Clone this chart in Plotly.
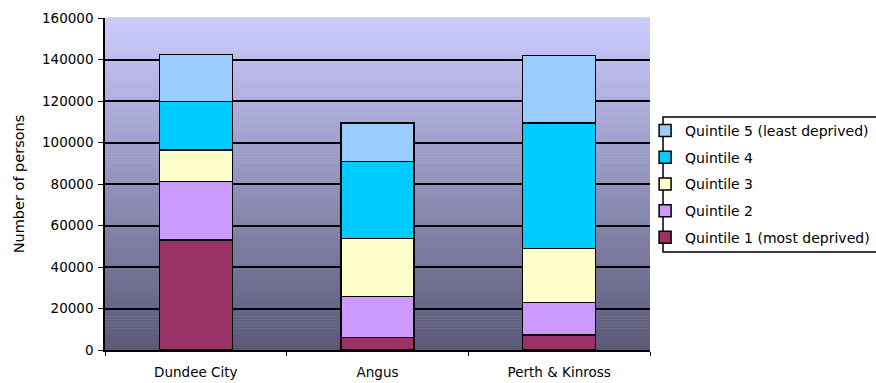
import plotly.graph_objects as go

categories = ["Dundee City", "Angus", "Perth & Kinross"]
series_names = ["Quintile 1 (most deprived)", "Quintile 2", "Quintile 3",
                "Quintile 4", "Quintile 5 (least deprived)"]
q1 = [53000, 6100, 7200]
q2 = [28200, 19600, 15600]
q3 = [15300, 28000, 26200]
q4 = [23300, 37100, 60300]
q5 = [22500, 18500, 32600]
y_ticks = [0, 20000, 40000, 60000, 80000, 100000, 120000, 140000, 160000]

series_values = [q1, q2, q3, q4, q5]
colors = ["#993366", "#cc99ff", "#ffffcc", "#00ccff", "#99ccff"]

FONT = "DejaVu Sans"

fig = go.Figure()
for i, (name, vals, col) in enumerate(zip(series_names, series_values, colors)):
    fig.add_trace(go.Bar(
        x=categories, y=vals, name=name, legendgroup=name,
        legendrank=len(series_names) - i,
        marker=dict(color=col, line=dict(color="black", width=1.5)),
    ))

# gradient background bands
top = (0xcc, 0xcc, 0xff)
bot = (0x5a, 0x58, 0x76)
N = 110
shapes = []
for k in range(N):
    t = (k + 0.5) / N
    c = tuple(int(round(bot[j] + (top[j] - bot[j]) * t)) for j in range(3))
    shapes.append(dict(type="rect", xref="x domain", yref="y domain",
                       x0=0, x1=1, y0=k / N, y1=(k + 1) / N + 0.002,
                       fillcolor="rgb(%d,%d,%d)" % c, line=dict(width=0),
                       layer="below"))
# legend box
shapes.append(dict(type="rect", xref="paper", yref="paper",
                   x0=1.0239, x1=1.42, y0=0.295, y1=0.702,
                   fillcolor="white", line=dict(color="black", width=1.5),
                   layer="below"))

fig.update_layout(
    width=876, height=383,
    margin=dict(l=105, r=226, t=18, b=33, autoexpand=False),
    paper_bgcolor="white",
    plot_bgcolor="rgba(0,0,0,0)",
    barmode="stack",
    bargap=0.598,
    font=dict(family=FONT, size=13, color="#000000"),
    shapes=shapes,
    showlegend=True,
    legend=dict(
        x=0.991, xanchor="left", y=0.708, yanchor="top",
        traceorder="grouped", tracegroupgap=5.5,
        bgcolor="rgba(0,0,0,0)", borderwidth=0,
        font=dict(family=FONT, size=14, color="#000000"),
        itemwidth=30,
    ),
    xaxis=dict(
        showline=True, linecolor="black", linewidth=1.5,
        ticks="outside", tickson="boundaries", ticklen=4, tickcolor="black",
        tickfont=dict(family=FONT, size=13.5),
        ticklabelstandoff=9,
        showgrid=False, fixedrange=True, automargin=False,
    ),
    yaxis=dict(
        range=[0, 160000], tickvals=y_ticks,
        ticktext=[str(v) for v in y_ticks],
        showline=True, linecolor="black", linewidth=1.5,
        ticks="outside", ticklen=5, tickcolor="black",
        showgrid=True, gridcolor="black", gridwidth=1.5,
        zeroline=False,
        tickfont=dict(family=FONT, size=13.5),
        ticklabelstandoff=2,
        title=dict(text="Number of persons", font=dict(family=FONT, size=14.5), standoff=14),
        automargin=False,
    ),
)

fig.write_html("out.html")
